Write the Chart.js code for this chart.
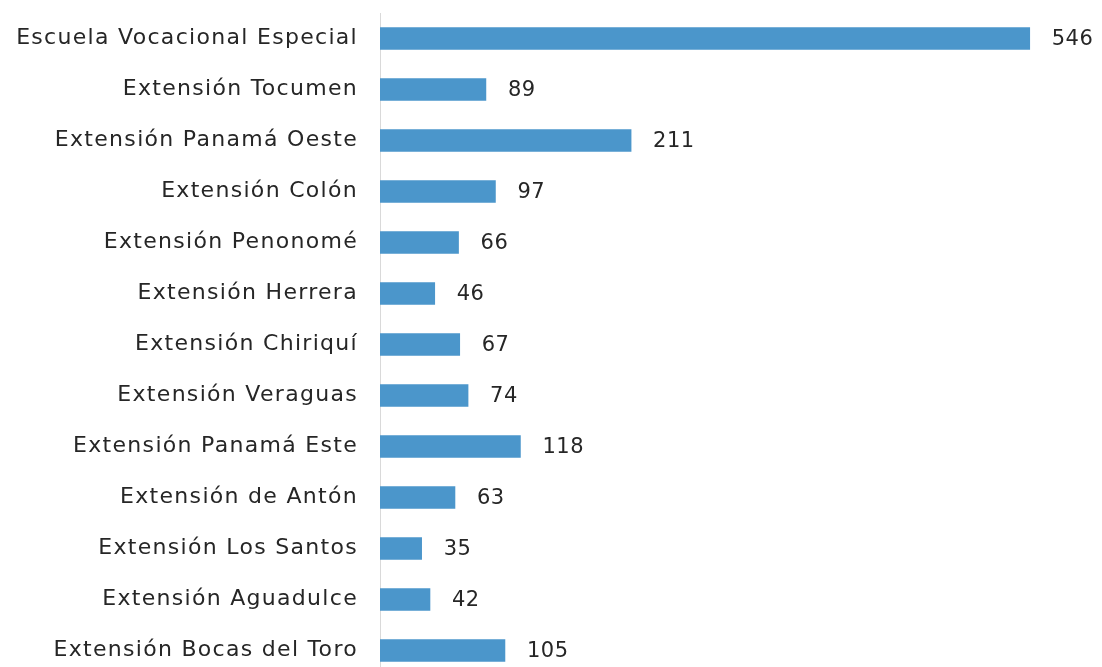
<!DOCTYPE html>
<html>
<head>
<meta charset="utf-8">
<script src="https://cdn.jsdelivr.net/npm/chart.js@4"></script>
<style>
  html, body { margin: 0; padding: 0; background: #fff; overflow: hidden; }
</style>
</head>
<body>
<canvas id="chart" width="1102" height="676"></canvas>
<script>
const categories = [
  'Escuela Vocacional Especial',
  'Extensión Tocumen',
  'Extensión Panamá Oeste',
  'Extensión Colón',
  'Extensión Penonomé',
  'Extensión Herrera',
  'Extensión Chiriquí',
  'Extensión Veraguas',
  'Extensión Panamá Este',
  'Extensión de Antón',
  'Extensión Los Santos',
  'Extensión Aguadulce',
  'Extensión Bocas del Toro'
];
const values = [546, 89, 211, 97, 66, 46, 67, 74, 118, 63, 35, 42, 105];

// the source text is a bit wide, so space the letters out while drawing
const letterSpacing = {
  id: 'letterSpacing',
  beforeDraw(chart) {
    chart.ctx.letterSpacing = '1.3px';
  },
  afterDraw(chart) {
    chart.ctx.letterSpacing = '0px';
  }
};

// draws the number after each bar
const valueLabels = {
  id: 'valueLabels',
  afterDatasetsDraw(chart) {
    const ctx = chart.ctx;
    const meta = chart.getDatasetMeta(0);
    ctx.save();
    ctx.letterSpacing = '0.5px';
    ctx.font = '21px "DejaVu Sans"';
    ctx.fillStyle = '#262626';
    ctx.textAlign = 'left';
    ctx.textBaseline = 'middle';
    meta.data.forEach((bar, i) => {
      ctx.fillText(String(values[i]), bar.x + 22, bar.y + 1);
    });
    ctx.restore();
  }
};

let ctx = document.getElementById('chart').getContext('2d');
// eslint-disable-next-line no-unused-vars
let chart = new Chart(ctx, {
  type: 'bar',
  data: {
    labels: categories,
    datasets: [
      {
        data: values,
        backgroundColor: '#4b96cb',
        borderWidth: 0,
        barThickness: 22,
      },
    ],
  },
  options: {
    indexAxis: 'y',
    responsive: false,
    animation: false,
    devicePixelRatio: 1,
    layout: { padding: { top: 13, right: 8, bottom: 0, left: 0 } },
    plugins: {
      legend: { display: false },
      tooltip: { enabled: false },
    },
    scales: {
      x: {
        display: false,
        min: 0,
        max: 600,
      },
      y: {
        afterFit(scale) {
          scale.width = 380;
          scale.paddingTop = 0;
          scale.paddingBottom = 0;
        },
        grid: { display: false, drawTicks: false },
        border: { display: true, color: '#d9d9d9', width: 1 },
        ticks: {
          padding: 22,
          color: '#262626',
          font: { family: 'DejaVu Sans', size: 22 },
        },
      },
    },
  },
  plugins: [letterSpacing, valueLabels],
});
</script>
</body>
</html>
